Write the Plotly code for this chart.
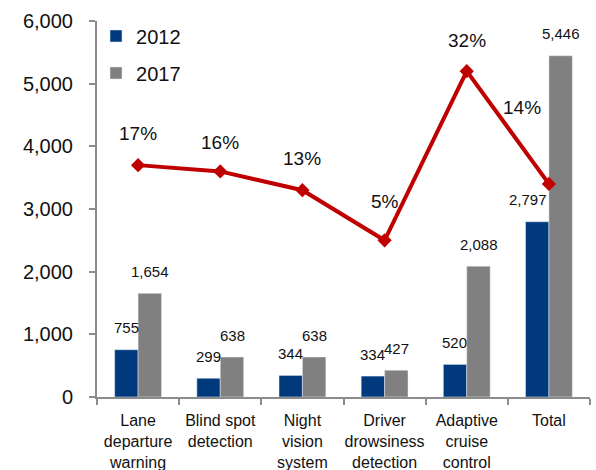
import plotly.graph_objects as go

categories = ["Lane<br>departure<br>warning", "Blind spot<br>detection", "Night<br>vision<br>system",
              "Driver<br>drowsiness<br>detection", "Adaptive<br>cruise<br>control", "Total"]
values_2012 = [755, 299, 344, 334, 520, 2797]
values_2017 = [1654, 638, 638, 427, 2088, 5446]
cagr_pct = [17, 16, 13, 5, 32, 14]
y_ticks = [0, 1000, 2000, 3000, 4000, 5000, 6000]

FONT = "Liberation Sans"
NAVY = "#003A7D"
GRAY = "#808080"
RED = "#C00000"
TXT = "#111111"

fig = go.Figure()
fig.add_trace(go.Bar(x=categories, y=values_2012, name="2012", marker_color=NAVY,
                     legendgroup="a", hoverinfo="skip"))
fig.add_trace(go.Bar(x=categories, y=values_2017, name="2017", marker_color=GRAY,
                     legendgroup="b", hoverinfo="skip"))
fig.add_trace(go.Scatter(x=categories, y=cagr_pct, yaxis="y2", mode="lines+markers",
                         line=dict(color=RED, width=4), marker=dict(symbol="diamond", size=11, color=RED),
                         showlegend=False, hoverinfo="skip"))

annotations = []
for c, v in zip(categories, values_2012):
    annotations.append(dict(x=c, y=v, text=f"{v:,}", showarrow=False, xshift=-12, yshift=22,
                            yanchor="middle", font=dict(family=FONT, size=15, color=TXT)))
for c, v in zip(categories, values_2017):
    annotations.append(dict(x=c, y=v, text=f"{v:,}", showarrow=False, xshift=12, yshift=22,
                            yanchor="middle", font=dict(family=FONT, size=15, color=TXT)))
pct_shift = [(0, 32), (0, 29), (0, 32), (0, 39), (0, 31), (-27, 76)]
for c, p, (dx, dy) in zip(categories, cagr_pct, pct_shift):
    annotations.append(dict(x=c, y=p, yref="y2", text=f"{p}%", showarrow=False, xshift=dx, yshift=dy,
                            yanchor="middle", font=dict(family=FONT, size=19, color=TXT)))
# fix 2,797 label offset
annotations[5]["xshift"] = -21

fig.update_layout(
    width=596, height=470,
    margin=dict(l=97, r=6, t=21, b=73, autoexpand=False),
    paper_bgcolor="white", plot_bgcolor="white",
    barmode="group", bargap=0.43, bargroupgap=0,
    font=dict(family=FONT, color=TXT),
    annotations=annotations,
    legend=dict(x=-0.002, y=1.012, xanchor="left", yanchor="top",
                font=dict(family=FONT, size=20, color=TXT),
                traceorder="grouped", tracegroupgap=8, bgcolor="rgba(0,0,0,0)"),
    xaxis=dict(showline=True, linecolor="#8C8C8C", linewidth=2, ticks="outside", tickson="boundaries",
               ticklen=6, tickcolor="#8C8C8C", tickwidth=2, tickangle=0,
               tickfont=dict(family=FONT, size=16, color=TXT), showgrid=False,
               ticklabelstandoff=8),
    yaxis=dict(range=[0, 6000], tickvals=y_ticks, tickformat=",", showline=True, linecolor="#8C8C8C",
               linewidth=2, ticks="outside", ticklen=6, tickcolor="#8C8C8C", tickwidth=2,
               tickfont=dict(family=FONT, size=20, color=TXT), showgrid=False, zeroline=False,
               ticklabelstandoff=12),
    yaxis2=dict(range=[-20, 40], overlaying="y", visible=False),
)

fig.write_html("out.html", config={"displayModeBar": False},
               post_script="document.body.style.margin='0';document.body.style.padding='0';")
